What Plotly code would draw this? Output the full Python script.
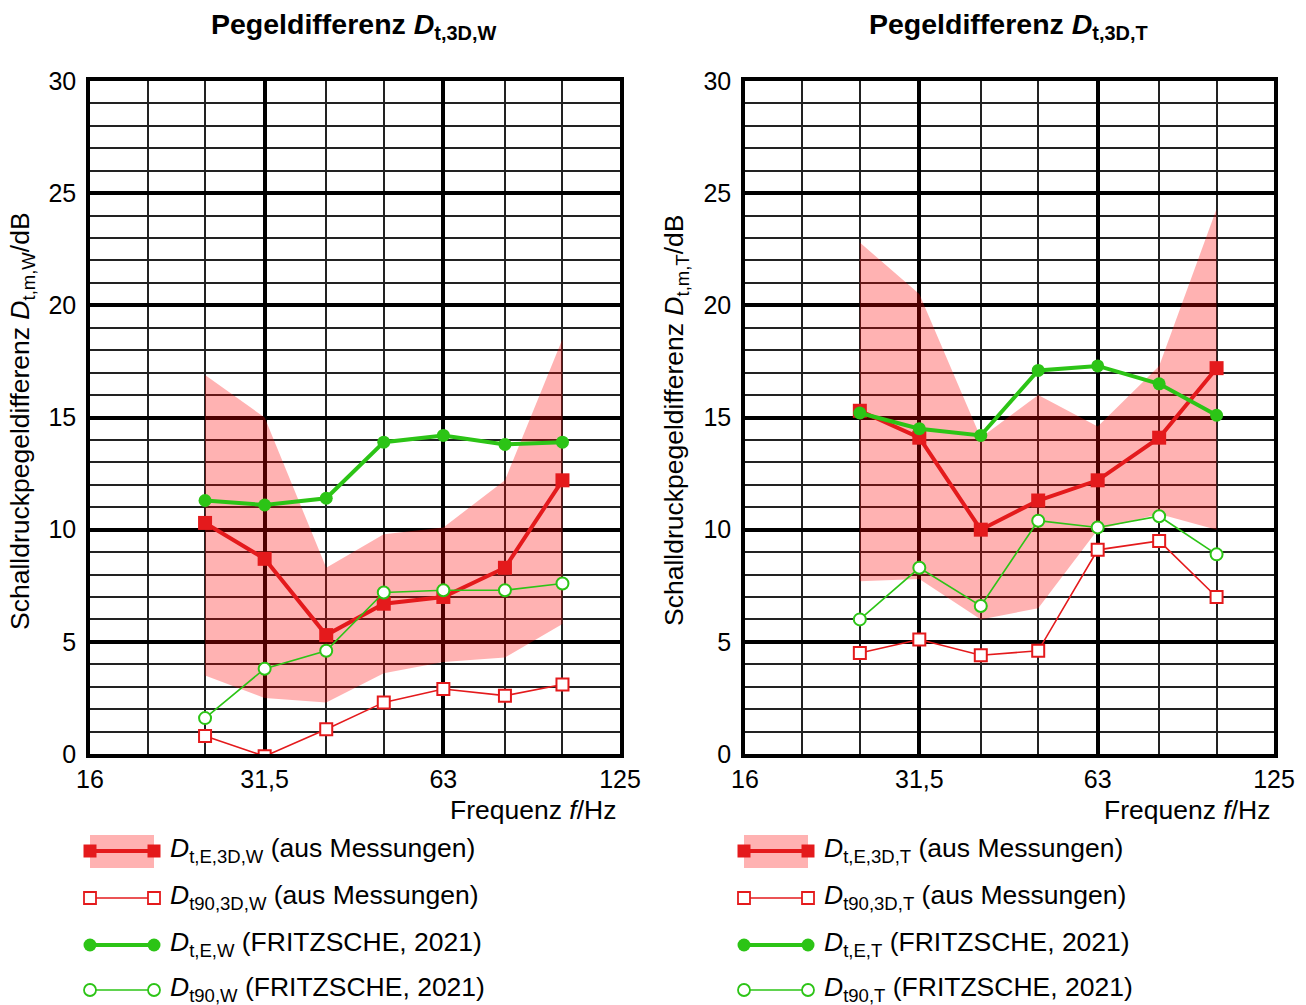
import math
import plotly.graph_objects as go

# Terzband-Mittenfrequenzen (Hz)
freq = [25, 31.5, 40, 50, 63, 80, 100]
major_freq = [16, 31.5, 63, 125]
major_labels = ["16", "31,5", "63", "125"]
minor_freq = [20, 25, 40, 50, 80, 100]

# Wand (W)
w_band_upper = [16.9, 15.0, 8.3, 9.8, 10.1, 12.2, 18.5]
w_band_lower = [3.5, 2.5, 2.3, 3.6, 4.1, 4.3, 5.8]
w_mess_E = [10.3, 8.7, 5.3, 6.7, 7.0, 8.3, 12.2]
w_mess_t90 = [0.8, -0.1, 1.1, 2.3, 2.9, 2.6, 3.1]
w_fr_E = [11.3, 11.1, 11.4, 13.9, 14.2, 13.8, 13.9]
w_fr_t90 = [1.6, 3.8, 4.6, 7.2, 7.3, 7.3, 7.6]

# Decke (T)
t_band_upper = [22.8, 20.5, 14.1, 16.0, 14.6, 17.3, 24.3]
t_band_lower = [7.7, 7.8, 6.0, 6.5, 10.0, 10.7, 10.0]
t_mess_E = [15.3, 14.1, 10.0, 11.3, 12.2, 14.1, 17.2]
t_mess_t90 = [4.5, 5.1, 4.4, 4.6, 9.1, 9.5, 7.0]
t_fr_E = [15.2, 14.5, 14.2, 17.1, 17.3, 16.5, 15.1]
t_fr_t90 = [6.0, 8.3, 6.6, 10.4, 10.1, 10.6, 8.9]

W, H = 1306, 1005
RED = "#e41a1c"
GREEN = "#2cc416"
PINK = "rgba(255,0,0,0.30)"
FONT = "Liberation Sans, Arial, sans-serif"


def px_x(p):
    return p / W


def px_y(p):
    return 1 - p / H


fig = go.Figure()


def add_panel(xa, ya, upper, lower, mess_E, mess_t90, fr_E, fr_t90):
    # Streubereich der Messungen
    fig.add_trace(go.Scatter(
        x=freq + freq[::-1], y=upper + lower[::-1], xaxis=xa, yaxis=ya,
        fill="toself", fillcolor=PINK, line=dict(width=0), mode="lines",
        hoverinfo="skip", showlegend=False))
    fig.add_trace(go.Scatter(
        x=freq, y=mess_E, xaxis=xa, yaxis=ya, mode="lines+markers",
        line=dict(color=RED, width=4),
        marker=dict(symbol="square", size=14, color=RED),
        showlegend=False))
    fig.add_trace(go.Scatter(
        x=freq, y=mess_t90, xaxis=xa, yaxis=ya, mode="lines+markers",
        line=dict(color=RED, width=1.6),
        marker=dict(symbol="square", size=12, color="white",
                    line=dict(color=RED, width=2)),
        showlegend=False))
    fig.add_trace(go.Scatter(
        x=freq, y=fr_E, xaxis=xa, yaxis=ya, mode="lines+markers",
        line=dict(color=GREEN, width=4),
        marker=dict(symbol="circle", size=13, color=GREEN),
        showlegend=False))
    fig.add_trace(go.Scatter(
        x=freq, y=fr_t90, xaxis=xa, yaxis=ya, mode="lines+markers",
        line=dict(color=GREEN, width=1.6),
        marker=dict(symbol="circle", size=12, color="white",
                    line=dict(color=GREEN, width=2)),
        showlegend=False))


add_panel("x", "y", w_band_upper, w_band_lower, w_mess_E, w_mess_t90, w_fr_E, w_fr_t90)
add_panel("x2", "y2", t_band_upper, t_band_lower, t_mess_E, t_mess_t90, t_fr_E, t_fr_t90)

xaxis_common = dict(
    type="log", range=[math.log10(16), math.log10(125)],
    tickmode="array", tickvals=major_freq, ticktext=major_labels,
    showgrid=True, gridcolor="black", gridwidth=3.5,
    minor=dict(tickmode="array", tickvals=minor_freq, showgrid=True,
               gridcolor="#222222", gridwidth=1.5, ticks=""),
    showline=True, mirror=True, linecolor="black", linewidth=3.5,
    ticks="", ticklabelstandoff=0, automargin=False,
    tickfont=dict(family=FONT, size=25, color="black"),
    zeroline=False, fixedrange=True,
)
yaxis_common = dict(
    range=[0, 30], tickmode="array", tickvals=[0, 5, 10, 15, 20, 25, 30],
    showgrid=True, gridcolor="black", gridwidth=3.5,
    minor=dict(dtick=1, showgrid=True, gridcolor="#222222", gridwidth=1.5, ticks=""),
    showline=True, mirror=True, linecolor="black", linewidth=3.5,
    ticks="", ticklabelstandoff=5, automargin=False,
    tickfont=dict(family=FONT, size=25, color="black"),
    zeroline=False, fixedrange=True,
)

top, bottom = 81, 754
fig.update_layout(
    xaxis=dict(domain=[px_x(90), px_x(620)], anchor="y", **xaxis_common),
    yaxis=dict(domain=[px_y(bottom), px_y(top)], anchor="x", **yaxis_common),
    xaxis2=dict(domain=[px_x(745), px_x(1274)], anchor="y2", **xaxis_common),
    yaxis2=dict(domain=[px_y(bottom), px_y(top)], anchor="x2", **yaxis_common),
    xaxis3=dict(domain=[0, 1], range=[0, W], anchor="y3", visible=False,
                fixedrange=True, automargin=False),
    yaxis3=dict(domain=[0, 1], range=[H, 0], anchor="x3", visible=False,
                fixedrange=True, automargin=False),
)

# Legendensymbole (Pixelkoordinaten auf xaxis3/yaxis3)
legend_rows = [851, 898, 945, 990]
for x0 in (90, 744):
    x1 = x0 + 64
    fig.add_shape(type="rect", xref="x3", yref="y3", x0=x0, x1=x1, y0=835, y1=868,
                  fillcolor=PINK, line=dict(width=0), layer="below")
    styles = [
        dict(line=dict(color=RED, width=4), marker=dict(symbol="square", size=13, color=RED)),
        dict(line=dict(color=RED, width=1.6),
             marker=dict(symbol="square", size=12, color="white", line=dict(color=RED, width=1.8))),
        dict(line=dict(color=GREEN, width=4), marker=dict(symbol="circle", size=13, color=GREEN)),
        dict(line=dict(color=GREEN, width=1.6),
             marker=dict(symbol="circle", size=12, color="white", line=dict(color=GREEN, width=1.8))),
    ]
    for yrow, st in zip(legend_rows, styles):
        fig.add_trace(go.Scatter(x=[x0, x1], y=[yrow, yrow], xaxis="x3", yaxis="y3",
                                 mode="lines+markers", hoverinfo="skip",
                                 showlegend=False, **st))

legend_texts = {
    168: [
        "<i>D</i><sub>t,E,3D,W</sub> (aus Messungen)",
        "<i>D</i><sub>t90,3D,W</sub> (aus Messungen)",
        "<i>D</i><sub>t,E,W</sub> (FRITZSCHE, 2021)",
        "<i>D</i><sub>t90,W</sub> (FRITZSCHE, 2021)",
    ],
    822: [
        "<i>D</i><sub>t,E,3D,T</sub> (aus Messungen)",
        "<i>D</i><sub>t90,3D,T</sub> (aus Messungen)",
        "<i>D</i><sub>t,E,T</sub> (FRITZSCHE, 2021)",
        "<i>D</i><sub>t90,T</sub> (FRITZSCHE, 2021)",
    ],
}
annotations = []
for xl, texts in legend_texts.items():
    for yrow, txt in zip(legend_rows, texts):
        annotations.append(dict(
            text=txt, xref="paper", yref="paper", x=px_x(xl), y=px_y(yrow - 1),
            xanchor="left", yanchor="middle", showarrow=False,
            font=dict(family=FONT, size=26.5, color="black")))

# Titel
for cx, tag in ((354, "W"), (1008, "T")):
    annotations.append(dict(
        text="<b>Pegeldifferenz <i>D</i><sub>t,3D," + tag + "</sub></b>",
        xref="paper", yref="paper", x=px_x(cx), y=px_y(26),
        xanchor="center", yanchor="middle", showarrow=False,
        font=dict(family=FONT, size=28.5, color="black")))

# Achsentitel
for cx, tag in ((22, "W"), (676, "T")):
    annotations.append(dict(
        text="Schalldruckpegeldifferenz <i>D</i><sub>t,m," + tag + "</sub>/dB",
        xref="paper", yref="paper", x=px_x(cx), y=px_y(421),
        xanchor="center", yanchor="middle", textangle=-90, showarrow=False,
        font=dict(family=FONT, size=26.5, color="black")))
for rx in (618, 1272):
    annotations.append(dict(
        text="Frequenz <i>f</i>/Hz", xref="paper", yref="paper",
        x=px_x(rx), y=px_y(810), xanchor="right", yanchor="middle",
        showarrow=False, font=dict(family=FONT, size=26.5, color="black")))

fig.update_layout(
    width=W, height=H, margin=dict(l=0, r=0, t=0, b=0, autoexpand=False),
    paper_bgcolor="white", plot_bgcolor="rgba(0,0,0,0)",
    annotations=annotations, showlegend=False,
    font=dict(family=FONT, color="black"),
)

fig.write_html("out.html", config={"displayModeBar": False})
